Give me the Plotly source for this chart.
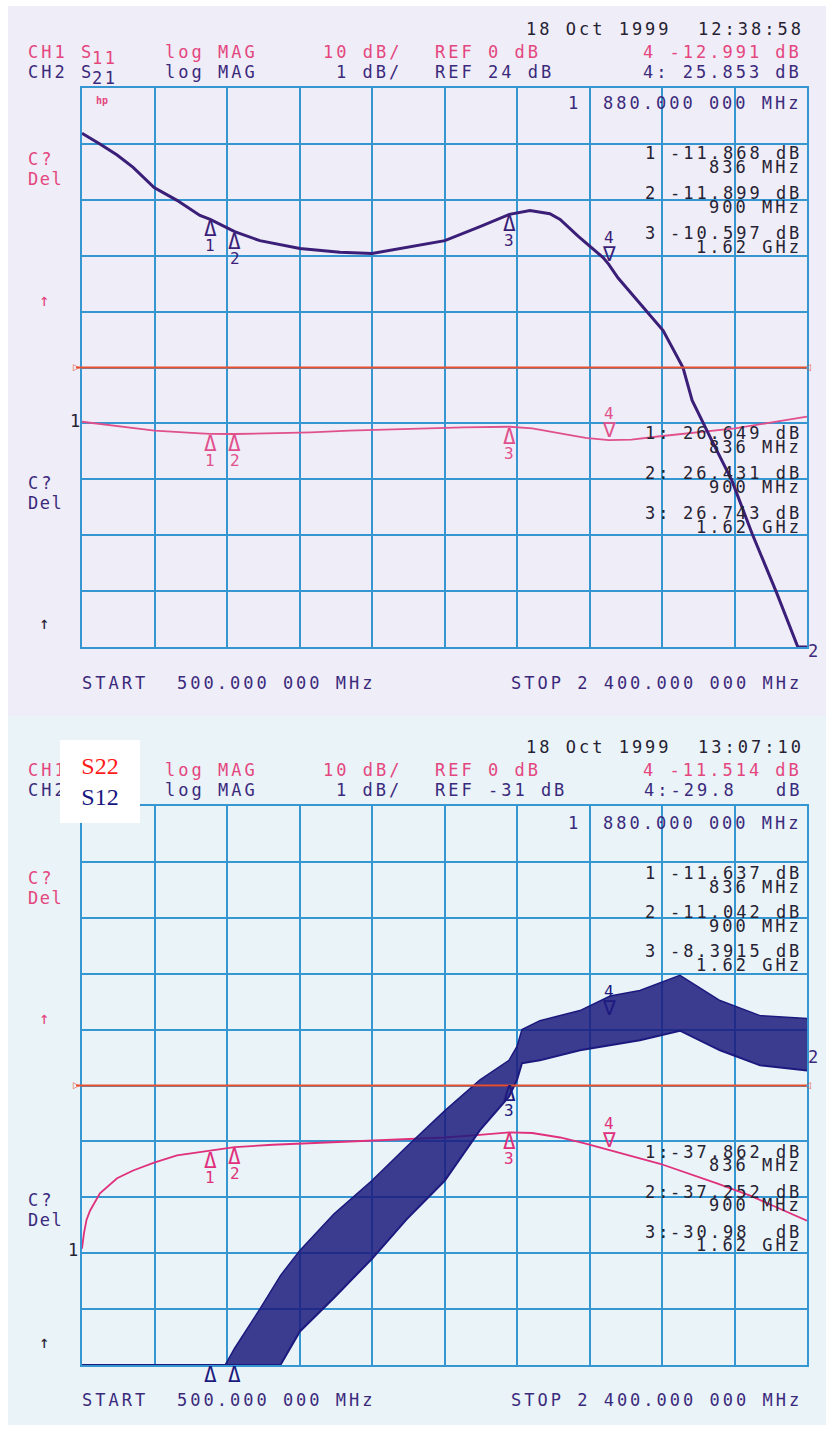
import plotly.graph_objects as go

W, H = 832, 1431

# ---------------- data ----------------
# top screen: CH1 S11 (10 dB/div, ref 0 dB), CH2 S21 (1 dB/div, ref 24 dB)
top_freq_s11 = [500, 600, 690, 810, 836, 900, 1000, 1100, 1200, 1300, 1400, 1500,
                1620, 1680, 1753, 1820, 1880, 1940, 2015, 2120, 2211, 2300, 2400]
top_s11_db = [-9.7, -10.5, -11.3, -11.8, -11.87, -11.9, -11.8, -11.6, -11.3, -11.1, -10.9, -10.7,
              -10.6, -10.9, -11.8, -12.6, -12.99, -12.9, -12.3, -11.6, -10.9, -9.9, -8.8]

top_freq_s21 = [500, 547, 592, 634, 689, 749, 809, 836, 900, 966, 1071, 1176, 1260, 1333,
                1451, 1543, 1620, 1674, 1726, 1753, 1800, 1865, 1880, 1905, 1962, 2023,
                2075, 2099, 2150, 2203, 2256, 2321, 2376, 2400]
top_s21_db = [28.19, 28.0, 27.8, 27.58, 27.22, 26.99, 26.72, 26.65, 26.43, 26.27, 26.13, 26.06,
              26.04, 26.13, 26.27, 26.52, 26.74, 26.81, 26.75, 26.65, 26.35, 25.97, 25.85,
              25.6, 25.15, 24.66, 24.0, 23.41, 22.7, 21.98, 21.03, 19.96, 19.0, 19.0]

# bottom screen: CH1 S22 (10 dB/div, ref 0 dB), CH2 S12 (1 dB/div, ref -31 dB)
bot_freq_s22 = [500, 505, 512, 521, 547, 592, 634, 689, 749, 809, 836, 900, 1000, 1100,
                1260, 1451, 1550, 1620, 1680, 1753, 1820, 1880, 2015, 2164, 2251, 2400]
bot_s22_db = [-29.2, -26.5, -24.0, -22.4, -19.3, -16.6, -15.2, -13.8, -12.5, -11.9, -11.64,
              -11.04, -10.6, -10.3, -9.9, -9.3, -8.8, -8.39, -8.5, -9.3, -10.4, -11.51,
              -14.0, -17.5, -19.7, -24.2]

# S12 is very noisy: upper and lower envelope of the trace band
bot_freq_s12 = [500, 875, 900, 966, 1020, 1071, 1160, 1260, 1350, 1451, 1543, 1619, 1640,
                1653, 1700, 1805, 1884, 1962, 2067, 2172, 2277, 2400]
bot_s12_hi = [-36.0, -36.0, -35.7, -35.0, -34.4, -33.95, -33.3, -32.7, -32.1, -31.45, -30.9,
              -30.55, -30.3, -30.0, -29.84, -29.66, -29.4, -29.3, -29.03, -29.48, -29.75, -29.8]
bot_s12_lo = [-36.0, -36.0, -36.0, -36.0, -36.0, -35.4, -34.8, -34.1, -33.4, -32.7, -31.8,
              -31.2, -30.9, -30.6, -30.55, -30.37, -30.28, -30.19, -30.02, -30.37, -30.64, -30.73]

# markers
marker_freq = [836, 900, 1620, 1880]
marker_freq_txt = ["836 MHz", "900 MHz", "1.62 GHz"]
top_s11_mk = [-11.868, -11.899, -10.597, -12.991]
top_s21_mk = [26.649, 26.431, 26.743, 25.853]
bot_s22_mk = [-11.637, -11.042, -8.3915, -11.514]
bot_s12_mk = [-37.862, -37.252, -30.98, -29.8]
top_s11_read = ["-11.868", "-11.899", "-10.597"]
top_s21_read = ["26.649", "26.431", "26.743"]
bot_s22_read = ["-11.637", "-11.042", "-8.3915"]
bot_s12_read = ["-37.862", "-37.252", "-30.98"]

# axis settings
x_start, x_stop, x_div = 500, 2400, 190
ch1_range = [-50, 50]
top_ch2_range = [19, 29]
bot_ch2_range = [-36, -26]

# ---------------- styles ----------------
GRID = "#3596D2"
PINK = "#E4467E"
PURP = "#3B2A7C"
INK = "#262233"
RED = "#E8502E"
S11C = "#E0508C"
S21C = "#3A1E78"
S22C = "#E0307C"
S12C = "#1C1A7E"
MONO = "DejaVu Sans Mono"


def px2x(px):
    return px / W


def px2y(py):
    return 1 - py / H


ann = []


def T(px, py, s, color, anchor="left", size=17, ls=3.0, family=MONO):
    s2 = s.replace(" ", "\u00a0")
    ann.append(dict(xref="paper", yref="paper", x=px2x(px), y=px2y(py), xanchor=anchor,
                    yanchor="middle", showarrow=False,
                    text='<span style="letter-spacing:%.1fpx">%s</span>' % (ls, s2),
                    font=dict(family=family, size=size, color=color)))


def mark(xr, yr, f, v, color, kind, label, show_label=True):
    if kind == "up":
        ann.append(dict(xref=xr, yref=yr, x=f, y=v, xanchor="center", yanchor="top",
                        yshift=4, showarrow=False, text="\u0394",
                        font=dict(family=MONO, size=21, color=color)))
        if show_label:
            ann.append(dict(xref=xr, yref=yr, x=f, y=v, xanchor="center", yanchor="top",
                            yshift=-15, showarrow=False, text=label,
                            font=dict(family=MONO, size=16, color=color)))
    else:
        ann.append(dict(xref=xr, yref=yr, x=f, y=v, xanchor="center", yanchor="bottom",
                        yshift=-4, showarrow=False, text="\u2207",
                        font=dict(family=MONO, size=21, color=color)))
        if show_label:
            ann.append(dict(xref=xr, yref=yr, x=f, y=v, xanchor="center", yanchor="bottom",
                            yshift=15, showarrow=False, text=label,
                            font=dict(family=MONO, size=16, color=color)))


fig = go.Figure()

# ---------------- traces ----------------
fig.add_trace(go.Scatter(x=top_freq_s11, y=top_s11_db, mode="lines", xaxis="x", yaxis="y",
                         line=dict(color=S11C, width=1.8), hoverinfo="skip"))
fig.add_trace(go.Scatter(x=top_freq_s21, y=top_s21_db, mode="lines", xaxis="x", yaxis="y2",
                         line=dict(color=S21C, width=3), hoverinfo="skip"))
fig.add_trace(go.Scatter(x=bot_freq_s22, y=bot_s22_db, mode="lines", xaxis="x2", yaxis="y3",
                         line=dict(color=S22C, width=1.8), hoverinfo="skip"))
fig.add_trace(go.Scatter(x=bot_freq_s12, y=bot_s12_lo, mode="lines", xaxis="x2", yaxis="y4",
                         line=dict(color=S12C, width=2), hoverinfo="skip"))
fig.add_trace(go.Scatter(x=bot_freq_s12, y=bot_s12_hi, mode="lines", xaxis="x2", yaxis="y4",
                         fill="tonexty", fillcolor="rgba(28,26,126,0.85)",
                         line=dict(color=S12C, width=1.5), hoverinfo="skip"))

# ---------------- axes ----------------
xdom = [82 / W, 807 / W]
top_dom = [px2y(647), px2y(88)]
bot_dom = [px2y(1365), px2y(806)]

gridax = dict(showgrid=True, gridcolor=GRID, gridwidth=2, zeroline=False, showticklabels=False,
              ticks="", showline=True, linecolor=GRID, linewidth=2, mirror=True)

fig.update_layout(
    xaxis=dict(domain=xdom, range=[x_start, x_stop], tick0=x_start, dtick=x_div, anchor="y", **gridax),
    yaxis=dict(domain=top_dom, range=ch1_range, tick0=0, dtick=10, anchor="x", **gridax),
    yaxis2=dict(overlaying="y", range=top_ch2_range, visible=False, anchor="x"),
    xaxis2=dict(domain=xdom, range=[x_start, x_stop], tick0=x_start, dtick=x_div, anchor="y3", **gridax),
    yaxis3=dict(domain=bot_dom, range=ch1_range, tick0=0, dtick=10, anchor="x2", **gridax),
    yaxis4=dict(overlaying="y3", range=bot_ch2_range, visible=False, anchor="x2"),
)

# ---------------- shapes ----------------
shapes = [
    dict(type="rect", xref="paper", yref="paper", x0=px2x(8), x1=px2x(826), y0=px2y(716), y1=px2y(6),
         fillcolor="#EFEDF7", line=dict(width=0), layer="below"),
    dict(type="rect", xref="paper", yref="paper", x0=px2x(8), x1=px2x(826), y0=px2y(1425), y1=px2y(716),
         fillcolor="#E9F3F8", line=dict(width=0), layer="below"),
    dict(type="line", xref="paper", yref="y", x0=px2x(76), x1=px2x(806), y0=0, y1=0,
         line=dict(color=RED, width=2), layer="above"),
    dict(type="line", xref="paper", yref="y3", x0=px2x(76), x1=px2x(806), y0=0, y1=0,
         line=dict(color=RED, width=2), layer="above"),
]

# ref-line end triangles
for yr_py in (367, 1085):
    T(76, yr_py, "\u25b7", RED, anchor="center", size=9, ls=0, family="DejaVu Sans")
    T(807, yr_py, "\u25c1", RED, anchor="center", size=9, ls=0, family="DejaVu Sans")

# ---------------- text: top screen ----------------
T(806, 29, "18 Oct 1999  12:38:58", INK, anchor="right")
T(26, 52, "CH1", PINK)
T(79, 52, "S", PINK)
T(90, 58, "11", PINK, ls=2.5)
T(163, 52, "log MAG", PINK)
T(404, 52, "10 dB/", PINK, anchor="right")
T(433, 52, "REF 0 dB", PINK)
T(804, 52, "4 -%.3f dB" % abs(top_s11_mk[3]), PINK, anchor="right")
T(26, 72, "CH2", PURP)
T(79, 72, "S", PURP)
T(90, 78, "21", PURP, ls=2.5)
T(163, 72, "log MAG", PURP)
T(404, 72, "1 dB/", PURP, anchor="right")
T(433, 72, "REF 24 dB", PURP)
T(804, 72, "4: %.3f dB" % top_s21_mk[3], PURP, anchor="right")
T(94, 101, "<b>hp</b>", PINK, size=10, ls=0)

T(583, 103, "1", PURP, anchor="right")
T(804, 103, "880.000 000 MHz", PURP, anchor="right")

for i in range(3):
    yv = 153 + 40 * i
    T(651, yv, str(i + 1), INK, anchor="center")
    T(804, yv, top_s11_read[i] + " dB", INK, anchor="right")
    T(804, yv + 14, marker_freq_txt[i], INK, anchor="right")
    yv2 = 433 + 40 * i
    T(643, yv2, "%d:" % (i + 1), INK)
    T(804, yv2, top_s21_read[i] + " dB", INK, anchor="right")
    T(804, yv2 + 14, marker_freq_txt[i], INK, anchor="right")

T(26, 159, "C?", PINK)
T(26, 179, "Del", PINK, ls=1.5)
T(44, 300, "\u2191", PINK, anchor="center", ls=0)
T(75, 421, "1", INK, anchor="center", ls=0)
T(26, 483, "C?", PURP)
T(26, 503, "Del", PURP, ls=1.5)
T(44, 623, "\u2191", INK, anchor="center", ls=0)
T(813, 651, "2", PURP, anchor="center", ls=0)

T(80, 683, "START", PURP)
T(175, 683, "500.000 000 MHz", PURP)
T(804, 683, "STOP 2 400.000 000 MHz", PURP, anchor="right")

# ---------------- text: bottom screen ----------------
T(806, 747, "18 Oct 1999  13:07:10", INK, anchor="right")
T(26, 770, "CH1", PINK)
T(163, 770, "log MAG", PINK)
T(404, 770, "10 dB/", PINK, anchor="right")
T(433, 770, "REF 0 dB", PINK)
T(804, 770, "4 -%.3f dB" % abs(bot_s22_mk[3]), PINK, anchor="right")
T(26, 790, "CH2", PURP)
T(163, 790, "log MAG", PURP)
T(404, 790, "1 dB/", PURP, anchor="right")
T(433, 790, "REF -31 dB", PURP)
T(642, 790, "4:%.1f" % bot_s12_mk[3], PURP)
T(804, 790, "dB", PURP, anchor="right")

T(583, 823, "1", PURP, anchor="right")
T(804, 823, "880.000 000 MHz", PURP, anchor="right")

for i in range(3):
    yv = 873 + 39 * i
    T(651, yv, str(i + 1), INK, anchor="center")
    T(804, yv, bot_s22_read[i] + " dB", INK, anchor="right")
    T(804, yv + 14, marker_freq_txt[i], INK, anchor="right")
    yv2 = 1152 + 40 * i
    T(643, yv2, "%d:" % (i + 1), INK)
    T(804, yv2, bot_s12_read[i] + (" dB" if len(bot_s12_read[i]) > 6 else "  dB"), INK, anchor="right")
    T(804, yv2 + 13, marker_freq_txt[i], INK, anchor="right")

T(26, 878, "C?", PINK)
T(26, 898, "Del", PINK, ls=1.5)
T(44, 1018, "\u2191", PINK, anchor="center", ls=0)
T(26, 1200, "C?", PURP)
T(26, 1220, "Del", PURP, ls=1.5)
T(73, 1250, "1", INK, anchor="center", ls=0)
T(44, 1342, "\u2191", INK, anchor="center", ls=0)
T(813, 1057, "2", PURP, anchor="center", ls=0)

T(80, 1400, "START", PURP)
T(175, 1400, "500.000 000 MHz", PURP)
T(804, 1400, "STOP 2 400.000 000 MHz", PURP, anchor="right")

# white label box over the bottom channel names
ann.append(dict(xref="paper", yref="paper", x=px2x(100), y=px2y(781), xanchor="center",
                yanchor="middle", showarrow=False, width=80, height=83, bgcolor="white",
                borderpad=0, borderwidth=0,
                text='<span style="color:#FF1A1A">S22</span><br><span style="color:#16157F">S12</span>',
                font=dict(family="Liberation Serif", size=24, color="#16157F")))

# ---------------- trace markers ----------------
for i, f in enumerate(marker_freq):
    kind = "down" if i == 3 else "up"
    lab = str(i + 1)
    mark("x", "y", f, top_s11_mk[i], S11C, kind, lab)
    mark("x", "y2", f, top_s21_mk[i], S21C, kind, lab)
    mark("x2", "y3", f, bot_s22_mk[i], S22C, kind, lab)
    v12 = max(bot_s12_mk[i], bot_ch2_range[0])
    mark("x2", "y4", f, v12, S12C, kind, lab, show_label=(i >= 2))

fig.update_layout(
    width=W, height=H, autosize=False, showlegend=False,
    margin=dict(l=0, r=0, t=0, b=0),
    paper_bgcolor="white", plot_bgcolor="rgba(0,0,0,0)",
    shapes=shapes, annotations=ann,
)

fig.write_html("out.html", config={"displayModeBar": False},
               post_script="document.body.style.margin='0';")
